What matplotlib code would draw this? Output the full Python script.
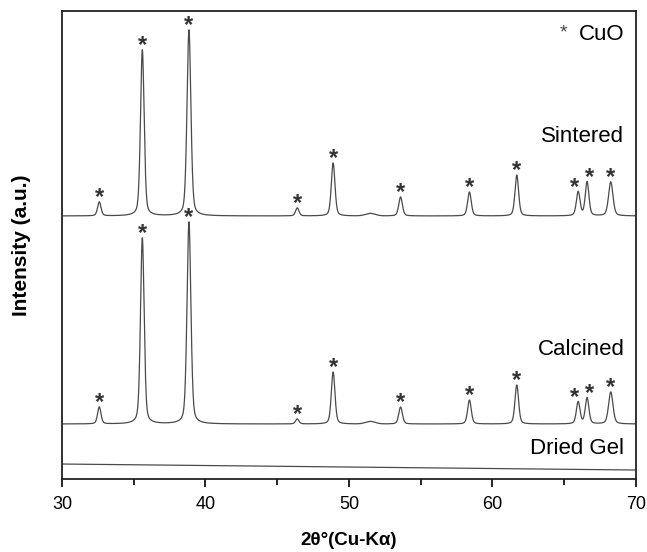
import numpy as np
import matplotlib
matplotlib.use("Agg")
import matplotlib.pyplot as plt

plt.rcParams['font.family'] = ['Liberation Sans', 'DejaVu Sans']

# CuO reflections (2theta, deg)
peak_pos = [32.6, 35.6, 38.85, 46.4, 48.9, 53.6, 58.4, 61.7, 65.98, 66.6, 68.25]
sintered_h = [14, 166, 186, 8, 53, 19, 24, 41, 24, 34, 34]
calcined_h = [17, 186, 202, 5, 52, 17, 24, 39, 22, 26, 32]
peak_fwhm = [0.28, 0.30, 0.32, 0.28, 0.30, 0.30, 0.30, 0.30, 0.30, 0.30, 0.36]
# small minor hump visible in the traces
hump_pos = [51.5]
hump_h = [2.5]
hump_fwhm = [0.8]

sintered_base = 263
calcined_base = 55
gel_start, gel_end = 15, 9

series_labels = ["Sintered", "Calcined", "Dried Gel"]
x_ticks = [30, 40, 50, 60, 70]

x = np.linspace(30, 70, 2500)

def pv(p, h, fw, eta=0.35):
    s = fw / 2.3548
    g = np.exp(-0.5 * ((x - p) / s) ** 2)
    l = 1.0 / (1.0 + ((x - p) / (fw / 2)) ** 2)
    return h * ((1 - eta) * g + eta * l)

def profile(base, heights):
    y = np.full_like(x, float(base))
    for p, h, w in zip(peak_pos, heights, peak_fwhm):
        y += pv(p, h, w)
    for p, h, w in zip(hump_pos, hump_h, hump_fwhm):
        y += pv(p, h, w, eta=0.0)
    return y

y_sint = profile(sintered_base, sintered_h)
y_calc = profile(calcined_base, calcined_h)
y_gel = np.interp(x, [30, 70], [gel_start, gel_end])

fig = plt.figure(figsize=(6.47, 5.52), dpi=100)
ax = fig.add_axes([0.0958, 0.1322, 0.887, 0.848])
lc = '#4a4a4a'
for yy in (y_sint, y_calc, y_gel):
    ax.plot(x, yy, color=lc, lw=0.9)

star_dx = [0, 0, 0, 0, 0, 0, 0, 0, -2.5, 1.5, 0]
for base, heights in ((sintered_base, sintered_h), (calcined_base, calcined_h)):
    for p, h, dx in zip(peak_pos, heights, star_dx):
        ax.annotate("*", xy=(p, base + h), xytext=(dx, -5), textcoords='offset points',
                    ha='center', va='bottom', fontsize=17, fontweight='bold', color='#333333')

ax.set_xlim(30, 70)
ax.set_ylim(0, 468)
ax.set_xticks(x_ticks)
ax.set_xticks([35, 45, 55, 65], minor=True)
ax.tick_params(axis='x', which='major', direction='out', length=6, width=1.2, labelsize=13, pad=6)
ax.tick_params(axis='x', which='minor', direction='out', length=4, width=1.2)
ax.set_yticks([])
for s in ax.spines.values():
    s.set_linewidth(1.3)
    s.set_color('#222222')

ax.set_xlabel("2θ°(Cu-Kα)", fontsize=13.5, fontweight='bold', labelpad=14)
ax.set_ylabel("Intensity (a.u.)", fontsize=15, fontweight='bold', labelpad=22)

ax.text(69.2, 342, series_labels[0], ha='right', va='center', fontsize=16)
ax.text(69.2, 129, series_labels[1], ha='right', va='center', fontsize=16)
ax.text(69.2, 31, series_labels[2], ha='right', va='center', fontsize=16)
ax.text(69.2, 444, "CuO", ha='right', va='center', fontsize=16)
ax.text(65.2, 446, "*", ha='right', va='center', fontsize=14, color='#444444')

fig.savefig("out.png", dpi=100)
